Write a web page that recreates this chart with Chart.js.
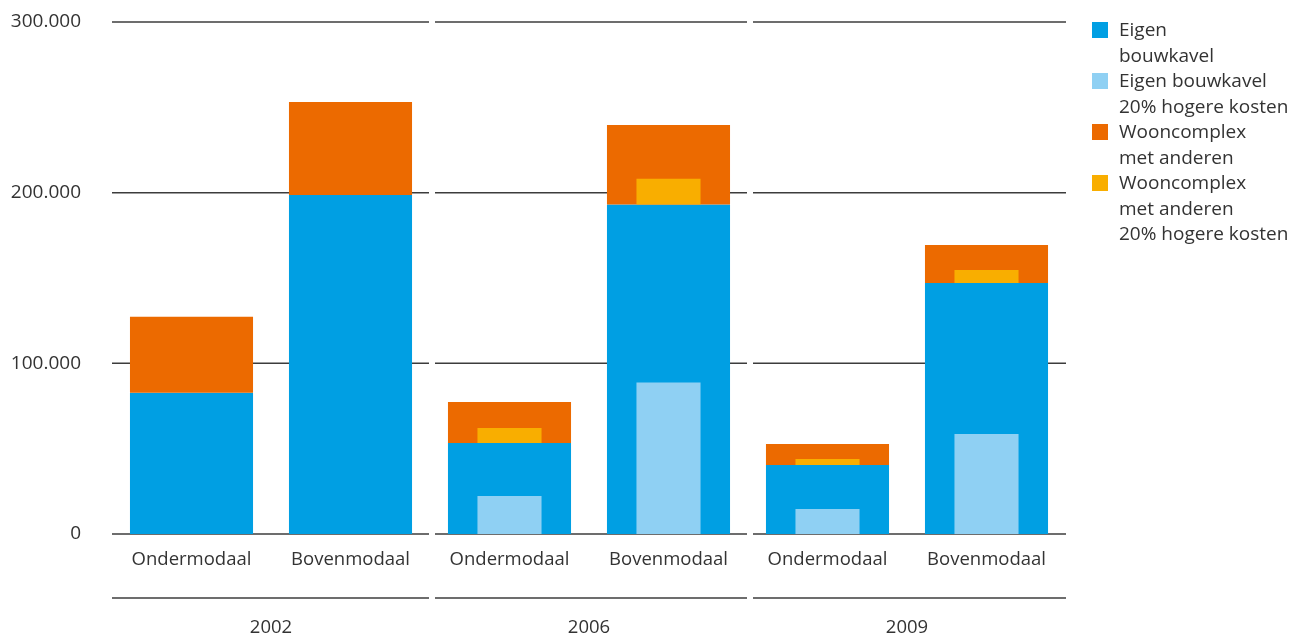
<!DOCTYPE html>
<html>
<head>
<meta charset="utf-8">
<script src="https://cdn.jsdelivr.net/npm/chart.js@4.4.1/dist/chart.umd.min.js"></script>
<style>
  body { margin: 0; background: #fff; }
  #wrap { position: relative; width: 1293px; height: 635px; }
  #legend { position: absolute; left: 1092px; top: 17px; font-family: "Open Sans", sans-serif; font-size: 19px; line-height: 25.5px; color: #333; }
  .item { display: flex; align-items: flex-start; }
  .box { width: 16px; height: 16px; margin-top: 5px; margin-right: 11px; flex: none; }
</style>
</head>
<body>
<div id="wrap">
  <canvas id="kavelChart" width="1293" height="635"></canvas>
  <div id="legend">
    <div class="item"><span class="box" style="background:#009fe3"></span><span>Eigen<br>bouwkavel</span></div>
    <div class="item"><span class="box" style="background:#8fd0f3"></span><span>Eigen bouwkavel<br>20% hogere kosten</span></div>
    <div class="item"><span class="box" style="background:#ec6a00"></span><span>Wooncomplex<br>met anderen</span></div>
    <div class="item"><span class="box" style="background:#f9ae00"></span><span>Wooncomplex<br>met anderen<br>20% hogere kosten</span></div>
  </div>
</div>
<script>
  // categorieen en jaren
  var categories = ["Ondermodaal", "Bovenmodaal", "Ondermodaal", "Bovenmodaal", "Ondermodaal", "Bovenmodaal"];
  var years = ["2002", "2006", "2009"];

  // waarden (aantal huishoudens)
  var eigenBouwkavel = [82800, 198600, 53300, 193000, 40400, 147100];
  var eigenBouwkavel20 = [null, null, 22300, 88700, 14600, 58600];
  var wooncomplex = [127300, 253100, 77300, 239600, 52700, 169300];   // totaal incl. eigen bouwkavel
  var wooncomplex20 = [null, null, 62100, 208200, 43900, 154700];

  var yTicks = [0, 100000, 200000, 300000];

  var textColor = "#333";
  var lineColor = "#3c3c3c";
  var fontFam = "'Open Sans', sans-serif";

  function fmt(v) {
    return String(v).replace(/\B(?=(\d{3})+(?!\d))/g, ".");
  }

  // horizontale lijnen met kleine onderbreking tussen de jaren
  var groupLines = {
    id: 'groupLines',
    beforeDatasetsDraw: function(chart) {
      var ctx = chart.ctx, a = chart.chartArea, y = chart.scales.y;
      var w = (a.right - a.left) / years.length;
      var rows = yTicks.map(function(t) { return y.getPixelForValue(t); });
      rows.push(a.bottom + 64);
      ctx.save();
      ctx.strokeStyle = lineColor;
      ctx.lineWidth = 1.5;
      rows.forEach(function(py) {
        for (var g = 0; g < years.length; g++) {
          var x0 = a.left + g * w + (g > 0 ? 5 : 0);
          var x1 = a.left + (g + 1) * w - (g < years.length - 1 ? 1 : 0);
          ctx.beginPath();
          ctx.moveTo(x0, py);
          ctx.lineTo(x1, py);
          ctx.stroke();
        }
      });
      ctx.restore();
    }
  };

  function pairs(from, to) {
    return to.map(function(v, i) {
      if (v == null) return null;
      return [from ? from[i] : 0, v];
    });
  }

  var chart = new Chart(document.getElementById('kavelChart'), {
    type: 'bar',
    data: {
      labels: categories,
      datasets: [
        { label: "Eigen bouwkavel", data: pairs(null, eigenBouwkavel), backgroundColor: "#009fe3",
          barPercentage: 0.774, categoryPercentage: 1, grouped: false, order: 4, xAxisID: 'x' },
        { label: "Eigen bouwkavel 20% hogere kosten", data: pairs(null, eigenBouwkavel20), backgroundColor: "#8fd0f3",
          barPercentage: 0.403, categoryPercentage: 1, grouped: false, order: 1, xAxisID: 'x' },
        { label: "Wooncomplex met anderen", data: pairs(eigenBouwkavel, wooncomplex), backgroundColor: "#ec6a00",
          barPercentage: 0.774, categoryPercentage: 1, grouped: false, order: 3, xAxisID: 'x' },
        { label: "Wooncomplex met anderen 20% hogere kosten", data: pairs(eigenBouwkavel, wooncomplex20), backgroundColor: "#f9ae00",
          barPercentage: 0.403, categoryPercentage: 1, grouped: false, order: 2, xAxisID: 'x' }
      ]
    },
    options: {
      responsive: false,
      animation: false,
      devicePixelRatio: 1,
      layout: { padding: { top: 22, right: 227, left: 0, bottom: 0 } },
      plugins: { legend: { display: false }, tooltip: { enabled: false } },
      scales: {
        x: {
          type: 'category',
          position: 'bottom',
          grid: { display: false, drawTicks: false },
          border: { display: false },
          ticks: { color: textColor, font: { family: fontFam, size: 18.5 }, padding: 15, maxRotation: 0, autoSkip: false },
          afterFit: function(s) { s.height = 64; }
        },
        x2: {
          type: 'category',
          labels: years,
          position: 'bottom',
          grid: { display: false, drawTicks: false },
          border: { display: false },
          ticks: { color: textColor, font: { family: fontFam, size: 18.5 }, padding: 19, maxRotation: 0 },
          afterFit: function(s) { s.height = 37; }
        },
        y: {
          min: 0,
          max: 300000,
          // tickLength zorgt voor de afstand tussen label en lijnen
          grid: { display: false, drawTicks: true, tickLength: 31 },
          border: { display: false },
          ticks: { stepSize: 100000, color: textColor, font: { family: fontFam, size: 19 }, padding: 0,
            callback: function(v) { return fmt(v); } },
          afterFit: function(s) { s.width = 112; }
        }
      }
    },
    plugins: [groupLines]
  });
</script>
</body>
</html>
